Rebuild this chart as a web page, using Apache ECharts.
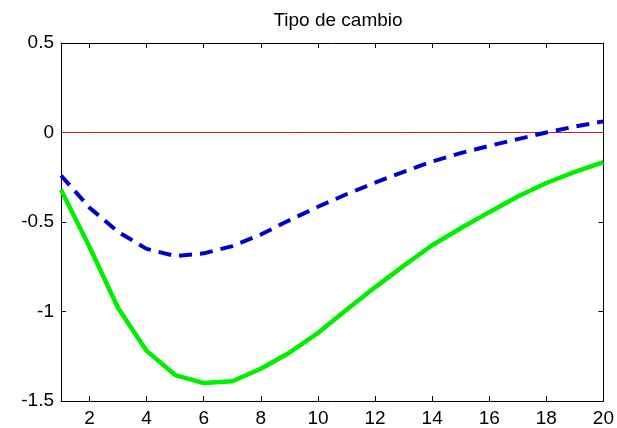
<!DOCTYPE html>
<html>
<head>
<meta charset="utf-8">
<title>Tipo de cambio</title>
<script src="https://cdn.jsdelivr.net/npm/echarts@6/dist/echarts.min.js"></script>
<style>
  html, body { margin: 0; padding: 0; background: #ffffff; }
  #chart { width: 617px; height: 428px; }
</style>
</head>
<body>
<div id="chart"></div>
<script>
// Horizon (periods) and impulse responses of the exchange rate
const periods = [1, 2, 3, 4, 5, 6, 7, 8, 9, 10, 11, 12, 13, 14, 15, 16, 17, 18, 19, 20];
const respuestaSolida = [-0.32, -0.64, -0.98, -1.22, -1.355, -1.40, -1.39, -1.32, -1.23, -1.12,
                         -0.99, -0.865, -0.745, -0.63, -0.535, -0.445, -0.358, -0.282, -0.22, -0.165];
const respuestaDiscontinua = [-0.24, -0.42, -0.555, -0.65, -0.69, -0.675, -0.635, -0.57, -0.49, -0.415,
                              -0.345, -0.28, -0.22, -0.162, -0.115, -0.075, -0.037, 0.0, 0.033, 0.062];
const ceros = periods.map(() => 0);

const xTicks = [2, 4, 6, 8, 10, 12, 14, 16, 18, 20];
const yTicks = [-1.5, -1, -0.5, 0, 0.5];

const pairs = (ys) => periods.map((p, i) => [p, ys[i]]);

const font = 'Liberation Sans, Arial, sans-serif';
const axisLine = { show: true, onZero: false, lineStyle: { color: '#000', width: 1 } };

const chart = echarts.init(document.getElementById('chart'), null, { renderer: 'canvas' });
chart.setOption({
  backgroundColor: '#ffffff',
  animation: false,
  title: {
    text: 'Tipo de cambio',
    left: 333, top: 6, textAlign: 'center',
    textStyle: { fontFamily: font, fontSize: 19, fontWeight: 'normal', color: '#000' }
  },
  grid: { left: 61, right: 12, top: 43, bottom: 25 },
  xAxis: [
    {
      type: 'value', min: 1, max: 20, position: 'bottom',
      axisLine,
      axisTick: { show: true, inside: true, length: 5, customValues: xTicks, lineStyle: { color: '#000' } },
      axisLabel: { customValues: xTicks, margin: 8, fontFamily: font, fontSize: 19, color: '#000' },
      splitLine: { show: false }
    },
    {
      type: 'value', min: 1, max: 20, position: 'top',
      axisLine,
      axisTick: { show: true, inside: true, length: 5, customValues: xTicks, lineStyle: { color: '#000' } },
      axisLabel: { show: false },
      splitLine: { show: false }
    }
  ],
  yAxis: [
    {
      type: 'value', min: -1.5, max: 0.5, position: 'left',
      axisLine,
      axisTick: { show: true, inside: true, length: 5, customValues: yTicks, lineStyle: { color: '#000' } },
      axisLabel: { customValues: yTicks, margin: 7, fontFamily: font, fontSize: 19, color: '#000' },
      splitLine: { show: false }
    },
    {
      type: 'value', min: -1.5, max: 0.5, position: 'right',
      axisLine,
      axisTick: { show: true, inside: true, length: 5, customValues: yTicks, lineStyle: { color: '#000' } },
      axisLabel: { show: false },
      splitLine: { show: false }
    }
  ],
  series: [
    {
      name: 'cero', type: 'line', data: pairs(ceros),
      showSymbol: false, silent: true,
      lineStyle: { color: '#d02020', width: 1 }
    },
    {
      name: 'sólida', type: 'line', data: pairs(respuestaSolida),
      showSymbol: false, z: 3,
      lineStyle: { color: '#00ee00', width: 4.5 }
    },
    {
      name: 'discontinua', type: 'line', data: pairs(respuestaDiscontinua),
      showSymbol: false, z: 4,
      lineStyle: { color: '#0000cc', width: 4, type: [13, 8] }
    }
  ]
});
</script>
</body>
</html>
